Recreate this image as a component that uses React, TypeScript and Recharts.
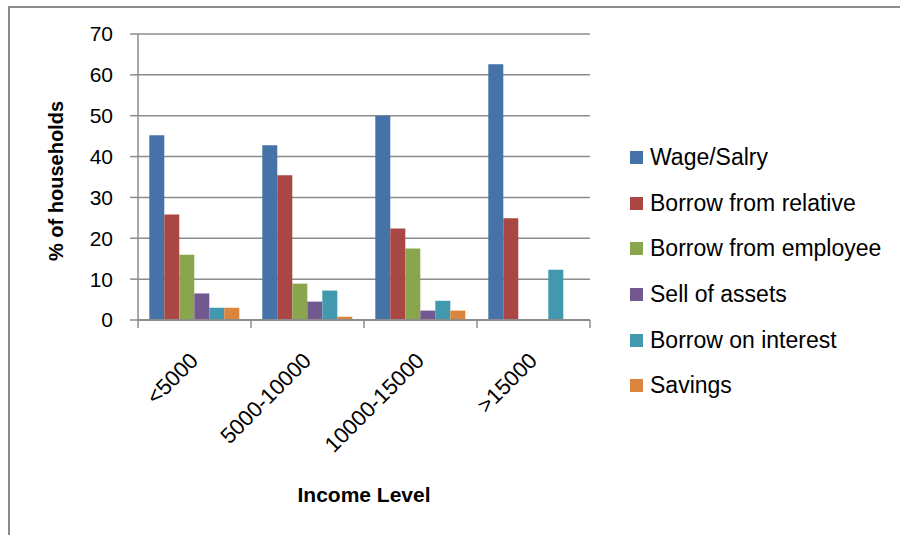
import React from 'react';
import { BarChart, Bar, XAxis, YAxis, CartesianGrid } from 'recharts';

const incomeLevels = ['<5000', '5000-10000', '10000-15000', '>15000'];
const wageSalary = [45.2, 42.8, 50.0, 62.6];
const borrowRelative = [25.8, 35.4, 22.4, 24.9];
const borrowEmployee = [16.0, 8.9, 17.5, 0];
const sellAssets = [6.5, 4.5, 2.3, 0];
const borrowInterest = [3.0, 7.2, 4.7, 12.3];
const savings = [3.0, 0.8, 2.3, 0];
const yTicks = [0, 10, 20, 30, 40, 50, 60, 70];

const seriesNames = ['Wage/Salry', 'Borrow from relative', 'Borrow from employee', 'Sell of assets', 'Borrow on interest', 'Savings'];
const seriesKeys = ['wage', 'relative', 'employee', 'assets', 'interest', 'savings'];
const COLORS = ['#4572A7', '#AA4643', '#89A54E', '#71588F', '#4198AF', '#DB843D'];

const data = incomeLevels.map((name, i) => ({
    name,
    wage: wageSalary[i],
    relative: borrowRelative[i],
    employee: borrowEmployee[i],
    assets: sellAssets[i],
    interest: borrowInterest[i],
    savings: savings[i],
}));

const FONT = '"Liberation Sans", Arial, sans-serif';
const AXIS_COLOR = '#8c8c8c';
const CHART_W = 900;
const CHART_H = 535;
const Y_AXIS_W = 60;
const MARGIN = { top: 34, right: 310, bottom: 185, left: 78 };
const PLOT_W = CHART_W - MARGIN.left - MARGIN.right - Y_AXIS_W;
const BAND = PLOT_W / incomeLevels.length;

const XTick = (props: any) => {
    const { x, y, payload, index } = props;
    const left = x - BAND / 2;
    return (
        <g>
            <line x1={left} y1={y} x2={left} y2={y + 8} stroke={AXIS_COLOR} strokeWidth={1.5} />
            {index === incomeLevels.length - 1 && (
                <line x1={left + BAND} y1={y} x2={left + BAND} y2={y + 8} stroke={AXIS_COLOR} strokeWidth={1.5} />
            )}
            <text
                x={x + 5}
                y={y + 42}
                textAnchor="end"
                transform={`rotate(-45, ${x + 5}, ${y + 42})`}
                fontSize={22}
                fontFamily={FONT}
                fill="#000"
            >
                {payload.value}
            </text>
        </g>
    );
};

const ChartLegend = () => (
    <div style={{ position: 'absolute', left: 630, top: 135, fontFamily: FONT, fontSize: 23, color: '#000' }}>
        {seriesNames.map((name, i) => (
            <div key={name} style={{ display: 'flex', alignItems: 'center', height: 45.6, whiteSpace: 'nowrap' }}>
                <span style={{ display: 'inline-block', width: 13, height: 13, background: COLORS[i], marginRight: 7 }} />
                <span>{name}</span>
            </div>
        ))}
    </div>
);

export default function App() {
    return (
        <div style={{ position: 'absolute', left: 0, top: 0, width: CHART_W, height: CHART_H, background: '#fff' }}>
            <div
                style={{
                    position: 'absolute',
                    left: 8,
                    top: 6,
                    width: CHART_W,
                    height: CHART_H,
                    borderTop: `2px solid ${AXIS_COLOR}`,
                    borderLeft: `2px solid ${AXIS_COLOR}`,
                }}
            />
            <BarChart
                width={CHART_W}
                height={CHART_H}
                data={data}
                margin={MARGIN}
                barCategoryGap="10%"
                barGap={0}
                style={{ position: 'absolute', left: 0, top: 0 }}
            >
                <CartesianGrid vertical={false} stroke={AXIS_COLOR} strokeWidth={1.5} />
                <XAxis
                    dataKey="name"
                    axisLine={{ stroke: AXIS_COLOR, strokeWidth: 2 }}
                    tickLine={false}
                    tickSize={0}
                    tickMargin={0}
                    height={30}
                    interval={0}
                    tick={<XTick />}
                    label={(p: any) => (
                        <text
                            x={p.viewBox.x + p.viewBox.width / 2}
                            y={p.viewBox.y + 182}
                            textAnchor="middle"
                            fontFamily={FONT}
                            fontWeight="bold"
                            fontSize={21}
                            fill="#000"
                        >
                            Income Level
                        </text>
                    )}
                />
                <YAxis
                    width={Y_AXIS_W}
                    domain={[0, 70]}
                    ticks={yTicks}
                    interval={0}
                    axisLine={{ stroke: AXIS_COLOR, strokeWidth: 1.5 }}
                    tickLine={{ stroke: AXIS_COLOR, strokeWidth: 1.5 }}
                    tickSize={8}
                    tickMargin={17}
                    tick={{ fontSize: 21, fontFamily: FONT, fill: '#000' }}
                    label={(p: any) => {
                        const cx = p.viewBox.x - 22;
                        const cy = p.viewBox.y + p.viewBox.height / 2 + 4;
                        return (
                            <text
                                x={cx}
                                y={cy}
                                textAnchor="middle"
                                dominantBaseline="central"
                                transform={`rotate(-90, ${cx}, ${cy})`}
                                fontFamily={FONT}
                                fontWeight="bold"
                                fontSize={20}
                                fill="#000"
                            >
                                % of households
                            </text>
                        );
                    }}
                />
                {seriesKeys.map((key, i) => (
                    <Bar key={key} dataKey={key} name={seriesNames[i]} fill={COLORS[i]} isAnimationActive={false} />
                ))}
            </BarChart>
            <ChartLegend />
        </div>
    );
}
